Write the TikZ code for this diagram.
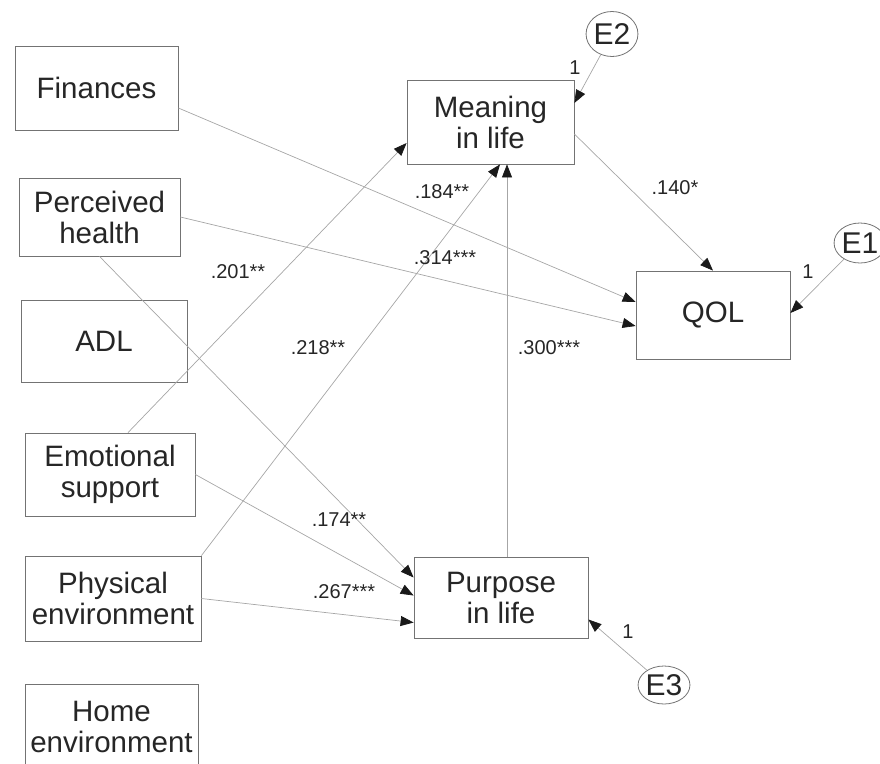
\documentclass[tikz,border=0pt]{standalone}
\usepackage{fontspec}
\setmainfont{Liberation Sans}
\usetikzlibrary{arrows.meta,shapes.geometric}
\tikzset{
  var/.style={draw=black!55, line width=0.8pt, align=center, text=black!85, inner sep=0pt, font=\fontsize{29.5}{31}\selectfont},
  err/.style={ellipse, draw=black!55, line width=0.8pt, text=black!85, inner sep=0pt, font=\fontsize{30}{32}\selectfont},
  link/.style={draw=black!35, line width=0.7pt, -{Triangle[length=13pt,width=10pt,color=black!90]}},
  coef/.style={text=black!85, inner sep=0pt, font=\fontsize{20}{22}\selectfont}
}
\begin{document}
\begin{tikzpicture}[x=1pt,y=-1pt]
\useasboundingbox (0,0) rectangle (880,763);
% observed variables
\begin{scope}
  \node[var, minimum width=163pt, minimum height=84pt] (fin) at (96.5,88) {Finances};
  \node[var, minimum width=161pt, minimum height=78pt] (pheal) at (99.5,217) {Perceived\\health};
  \node[var, minimum width=166pt, minimum height=82pt] (adl) at (104,341) {ADL};
  \node[var, minimum width=170pt, minimum height=83pt] (emo) at (110,474.5) {Emotional\\support};
  \node[var, minimum width=176pt, minimum height=85pt] (phys) at (113,598.5) {Physical\\environment};
  \node[var, minimum width=173pt, minimum height=85pt] (home) at (111.5,726.5) {Home\\environment};
  \node[var, minimum width=167pt, minimum height=84pt] (mean) at (490.5,122) {Meaning\\in life};
  \node[var, minimum width=154pt, minimum height=88pt] (qol) at (713,315) {QOL};
  \node[var, minimum width=174pt, minimum height=81pt] (purp) at (501,597.5) {Purpose\\in life};
\end{scope}
% error terms
\begin{scope}
  \node[err, minimum width=47pt, minimum height=45pt] (e2) at (612,34) {E2};
  \node[err, minimum width=47pt, minimum height=40pt] (e1) at (860,243) {E1};
  \node[err, minimum width=42pt, minimum height=38pt] (e3) at (664,685) {E3};
\end{scope}
% paths
\begin{scope}
  \draw[link] ([yshift=-20pt]fin.east) -- ([yshift=13pt]qol.west);
  \draw[link] (pheal.east) -- ([yshift=-11pt]qol.west);
  \draw[link] (pheal.south) -- ([yshift=20pt]purp.west);
  \draw[link] ([xshift=18pt]emo.north) -- ([yshift=-21pt]mean.west);
  \draw[link] (emo.east) -- ([yshift=2pt]purp.west);
  \draw[link] (phys.north east) -- ([xshift=9.5pt]mean.south);
  \draw[link] (phys.east) -- ([yshift=-25pt]purp.west);
  \draw[link] ([xshift=6pt]purp.north) -- ([xshift=16.5pt]mean.south);
  \draw[link] ([yshift=-12pt]mean.east) -- (qol.north);
  \draw[link] (e2) -- ([yshift=19pt]mean.east);
  \draw[link] (e1) -- ([yshift=2pt]qol.east);
  \draw[link] (e3) -- ([yshift=-22pt]purp.east);
\end{scope}
% estimates
\begin{scope}
  \node[coef] (c184) at (442,192) {.184**};\node[coef] (c314) at (445,258) {.314***};
  \node[coef] (c201) at (238,272) {.201**};\node[coef] (c218) at (318,348) {.218**};
  \node[coef] (c300) at (549,348) {.300***};\node[coef] (c140) at (675,188) {.140*};
  \node[coef] (c174) at (339,520) {.174**};\node[coef] (c267) at (344,592) {.267***};
  \node[coef] (w2) at (575,68) {1};\node[coef] (w1) at (808,272) {1};\node[coef] (w3) at (628,632) {1};
\end{scope}
\end{tikzpicture}
\end{document}
